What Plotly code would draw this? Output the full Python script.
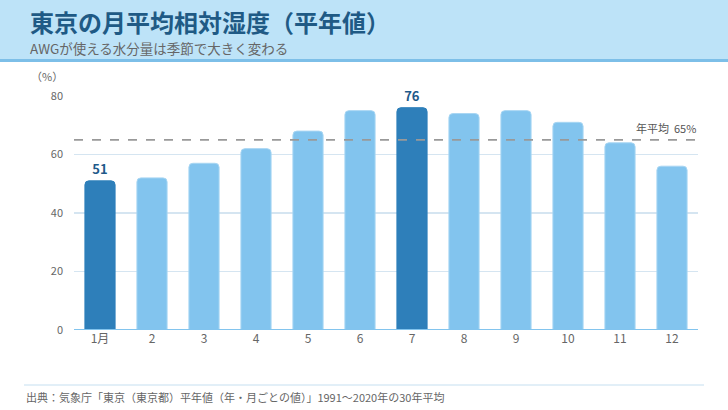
import plotly.graph_objects as go

months = ["1月", "2", "3", "4", "5", "6", "7", "8", "9", "10", "11", "12"]
humidity = [51, 52, 57, 62, 68, 75, 76, 74, 75, 71, 64, 56]
highlight = ["1月", "7"]
annual_avg = 65
y_ticks = [0, 20, 40, 60, 80]

title = "東京の月平均相対湿度（平年値）"
subtitle = "AWGが使える水分量は季節で大きく変わる"
source = "出典：気象庁「東京（東京都）平年値（年・月ごとの値）」1991～2020年の30年平均"

DARK = "#2e7fba"
LIGHT = "#82c4ee"
FONT = "Noto Sans CJK JP"

colors = [DARK if m in highlight else LIGHT for m in months]
line_colors = [DARK if m in highlight else "#a8d6f3" for m in months]
labels = [str(v) if m in highlight else "" for m, v in zip(months, humidity)]

fig = go.Figure()
fig.add_trace(go.Bar(
    x=months, y=humidity,
    marker=dict(color=colors, line=dict(color=line_colors, width=1), cornerradius=4),
    text=labels, textposition="outside", cliponaxis=False,
    textfont=dict(family=FONT, size=13, color="#1f5a8a", weight="bold"),
    hoverinfo="skip",
))

W, H = 728, 410
PW, PH = 624, 234
fig.update_layout(
    width=W, height=H,
    margin=dict(l=74, r=30, t=96, b=80),
    paper_bgcolor="white", plot_bgcolor="white",
    showlegend=False, bargap=0.42,
    font=dict(family=FONT, color="#666666"),
    xaxis=dict(showgrid=False, showline=False, ticks="", tickfont=dict(size=12, color="#666666"),
               fixedrange=True),
    yaxis=dict(range=[0, 80], tickvals=y_ticks, showgrid=True, gridcolor="#d5e5f1", gridwidth=1.3,
               zeroline=False, showline=False, ticks="", ticklabelstandoff=10,
               tickfont=dict(size=11, color="#666666"), fixedrange=True),
    shapes=[
        dict(type="rect", xref="paper", yref="paper", x0=-74/PW, x1=1+30/PW,
             y0=1+(96-59)/PH, y1=1+96/PH, fillcolor="#bde3f8", line=dict(width=0), layer="below"),
        dict(type="rect", xref="paper", yref="paper", x0=-74/PW, x1=1+30/PW,
             y0=1+(96-62)/PH, y1=1+(96-59)/PH, fillcolor="#7dbfe8", line=dict(width=0), layer="below"),
        dict(type="line", xref="paper", yref="y", x0=0, x1=1, y0=0, y1=0,
             line=dict(color="#82c4ee", width=2)),
        dict(type="line", xref="paper", yref="y", x0=0, x1=1, y0=annual_avg, y1=annual_avg,
             line=dict(color="#999999", width=1.6, dash="dash")),
        dict(type="line", xref="paper", yref="paper", x0=-50/PW, x1=1+6/PW,
             y0=-(385-330)/PH, y1=-(385-330)/PH, line=dict(color="#c5dff0", width=1)),
    ],
    annotations=[
        dict(text=f"<b>{title}</b>", xref="paper", yref="paper", x=-46/PW, y=1+(96-21)/PH,
             xanchor="left", yanchor="middle", showarrow=False,
             font=dict(size=24, color="#1f5a85", family=FONT)),
        dict(text=subtitle, xref="paper", yref="paper", x=-46/PW, y=1+(96-48)/PH,
             xanchor="left", yanchor="middle", showarrow=False,
             font=dict(size=13.5, color="#666666", family=FONT)),
        dict(text="（%）", xref="paper", yref="paper", x=-27/PW, y=1+(96-76)/PH,
             xanchor="center", yanchor="middle", showarrow=False,
             font=dict(size=11, color="#666666", family=FONT)),
        dict(text=f"年平均  {annual_avg}%", xref="paper", yref="y", x=1, y=annual_avg,
             xanchor="right", yanchor="bottom", yshift=2, showarrow=False,
             font=dict(size=11, color="#555555", family=FONT)),
        dict(text=source, xref="paper", yref="paper", x=-50/PW, y=-(397-330)/PH,
             xanchor="left", yanchor="middle", showarrow=False,
             font=dict(size=11, color="#666666", family=FONT)),
    ],
)

fig.write_html("out.html", config={"displayModeBar": False, "staticPlot": True},
               post_script="document.body.style.margin='0';document.body.style.padding='0';")
